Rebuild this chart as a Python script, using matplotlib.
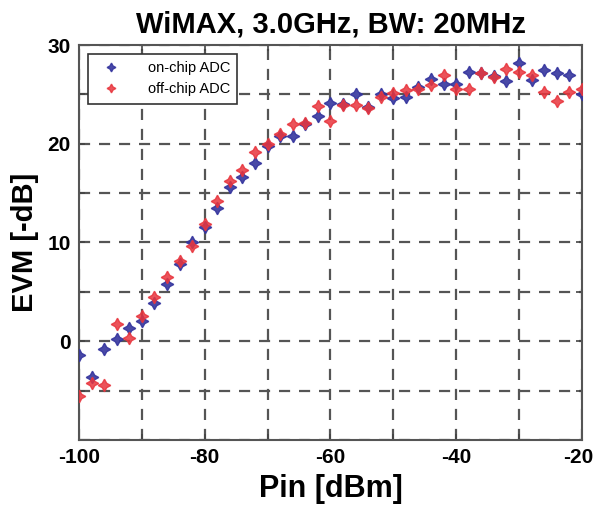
import matplotlib
matplotlib.use("Agg")
import matplotlib.pyplot as plt
import matplotlib.transforms as mtrans
from matplotlib.ticker import MultipleLocator, FuncFormatter

# input power sweep, 2 dB steps
pin = list(range(-100, -18, 2))

evm_on_chip = [-1.4, -3.6, -0.8, 0.2, 1.3, 2.0, 3.9, 5.8, 7.8, 10.1,
               11.6, 13.5, 15.6, 16.6, 18.0, 19.8, 20.8, 20.8, 22.0, 22.8,
               24.1, 24.0, 25.0, 23.7, 25.0, 24.6, 24.7, 25.7, 26.6, 26.1,
               26.1, 27.3, 27.2, 26.9, 26.4, 28.2, 26.5, 27.5, 27.2, 27.0,
               25.0]
evm_off_chip = [-5.5, -4.2, -4.4, 1.7, 0.3, 2.6, 4.5, 6.5, 8.1, 9.6,
                11.9, 14.2, 16.2, 17.3, 19.2, 20.0, 21.0, 22.0, 22.1, 23.8,
                22.3, 23.9, 23.9, 23.6, 24.7, 25.1, 25.4, 25.5, 26.0, 27.0,
                25.5, 25.5, 27.2, 26.8, 27.6, 27.3, 27.0, 25.2, 24.3, 25.2,
                25.5]

x_ticks = list(range(-100, -19, 10))
x_tick_labels = ['-100', '', '-80', '', '-60', '', '-40', '', '-20']

plt.rcParams['font.family'] = ['Liberation Sans', 'DejaVu Sans']

fig = plt.figure(figsize=(5.95, 5.08), dpi=100)
ax = fig.add_axes([0.1328, 0.1339, 0.8452, 0.7775])

star = (4, 1, 0)
ax.plot(pin, evm_on_chip, linestyle='none', marker=star, markersize=9,
        color='#35359e', alpha=0.9, label='on-chip ADC', zorder=3)
ax.plot(pin, evm_off_chip, linestyle='none', marker=star, markersize=9,
        color='#e8353d', alpha=0.85, label='off-chip ADC', zorder=3)

ax.set_xlim(-100, -20)
ax.set_ylim(-10, 30)
ax.set_xticks(x_ticks, labels=x_tick_labels)
ax.yaxis.set_major_locator(MultipleLocator(5))
ax.yaxis.set_major_formatter(FuncFormatter(lambda v, p: '%d' % v if round(v) % 10 == 0 and v >= 0 else ''))
ax.tick_params(direction='in', length=4, width=1.2, top=True, right=True,
               labelsize=15, color='#444444', pad=6)
for lab in ax.get_xticklabels() + ax.get_yticklabels():
    lab.set_fontweight('bold')

# last x label pushed left so it stays inside the figure
last = ax.get_xticklabels()[-1]
last.set_horizontalalignment('right')
last.set_transform(last.get_transform() + mtrans.ScaledTranslation(0.11, 0, fig.dpi_scale_trans))

ax.grid(True, which='major', color='#555555', linestyle=(0, (5, 4)), linewidth=1.6)
for sp in ax.spines.values():
    sp.set_linewidth(1.5)
    sp.set_color('#555555')

ax.set_title('WiMAX, 3.0GHz, BW: 20MHz', fontsize=21, fontweight='bold', pad=9)
ax.set_xlabel('Pin [dBm]', fontsize=22, fontweight='bold', labelpad=5)
ax.set_ylabel('EVM [-dB]', fontsize=21, fontweight='bold', labelpad=6)

leg = ax.legend(loc='upper left', fontsize=10.5, markerscale=0.7,
                borderaxespad=0.6, fancybox=False, framealpha=1,
                handlelength=2.2, handletextpad=1.4, borderpad=0.5,
                labelspacing=0.5)
leg.get_frame().set_edgecolor('#333333')
leg.get_frame().set_linewidth(1.2)

fig.savefig('out.png', dpi=100)
